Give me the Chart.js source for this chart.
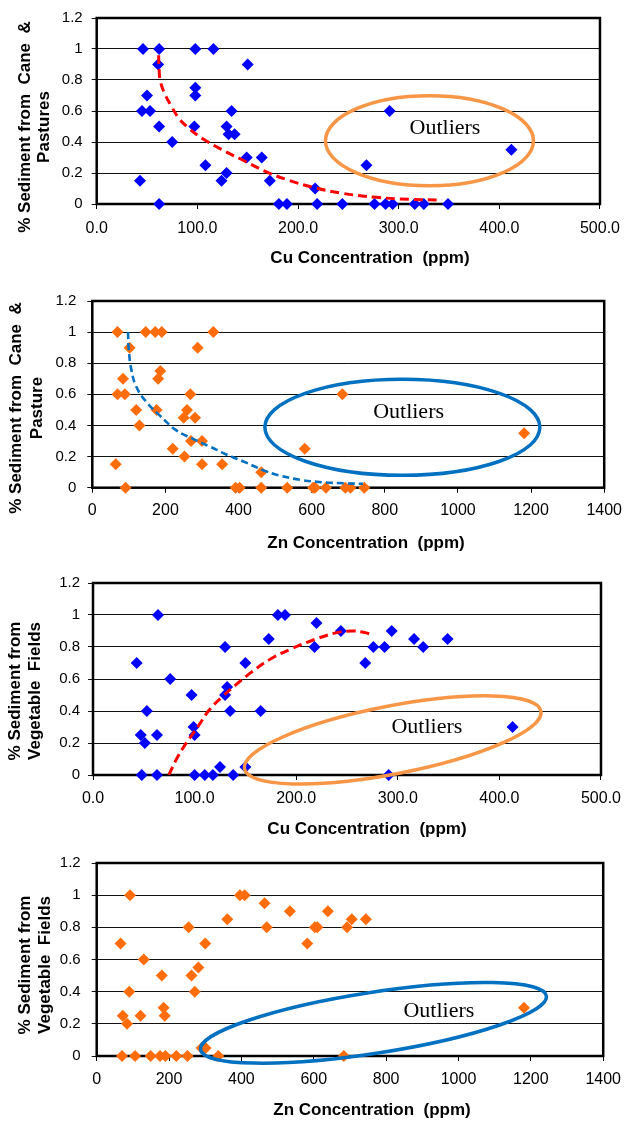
<!DOCTYPE html>
<html lang="en">
<head>
<meta charset="UTF-8">
<title>Sediment source vs Cu / Zn concentration</title>
<script src="https://cdn.jsdelivr.net/npm/chart.js"></script>
<style>
  body { margin: 0; background: #fff; }
  .panel { position: absolute; left: 0; width: 630px; height: 281px; }
</style>
</head>
<body>
<div class="panel" style="top:0px"><canvas id="cu-cane"></canvas></div>
<div class="panel" style="top:281px"><canvas id="zn-cane"></canvas></div>
<div class="panel" style="top:562px"><canvas id="cu-veg"></canvas></div>
<div class="panel" style="top:843px"><canvas id="zn-veg"></canvas></div>

<script>
// ---- data ----
// Cu vs % sediment from cane & pastures
const cuCaneX = [46, 62, 98, 116, 61, 150, 98, 98, 50, 45, 53, 134, 291, 62, 97, 129, 131, 137, 75, 412,
                 149, 164, 108, 268, 129, 43, 124, 172, 217,
                 62, 181, 189, 219, 244, 276, 287, 294, 316, 325, 349];
const cuCaneY = [1, 1, 1, 1, 0.9, 0.9, 0.75, 0.7, 0.7, 0.6, 0.6, 0.6, 0.6, 0.5, 0.5, 0.5, 0.45, 0.45, 0.4, 0.35,
                 0.3, 0.3, 0.25, 0.25, 0.2, 0.15, 0.15, 0.15, 0.1,
                 0, 0, 0, 0, 0, 0, 0, 0, 0, 0, 0];
const cuCaneTrendX = [61.5, 62, 63, 67, 73.7, 82, 92, 105, 124.5, 144, 167, 190, 216, 243, 278, 310, 343];
const cuCaneTrendY = [0.96, 0.87, 0.8, 0.72, 0.637, 0.55, 0.486, 0.423, 0.35, 0.287, 0.212, 0.155, 0.106, 0.07, 0.043, 0.03, 0.025];

// Zn vs % sediment from cane & pasture
const znCaneX = [69, 146, 172, 190, 331, 102, 288, 186, 180, 84, 69, 89, 268, 684, 120, 176, 259, 250, 281, 129,
                 1181, 270, 300, 220, 581, 252, 64, 300, 355, 462,
                 91, 392, 403, 462, 533, 604, 609, 639, 692, 706, 744];
const znCaneY = [1, 1, 1, 1, 1, 0.9, 0.9, 0.75, 0.7, 0.7, 0.6, 0.6, 0.6, 0.6, 0.5, 0.5, 0.5, 0.45, 0.45, 0.4,
                 0.35, 0.3, 0.3, 0.25, 0.25, 0.2, 0.15, 0.15, 0.15, 0.1,
                 0, 0, 0, 0, 0, 0, 0, 0, 0, 0, 0];
const znCaneTrendX = [97.7, 100, 107, 120, 148, 184, 229, 274, 319, 365, 419, 470, 509, 570, 630, 690, 740];
const znCaneTrendY = [1.0, 0.88, 0.756, 0.65, 0.55, 0.465, 0.37, 0.315, 0.267, 0.215, 0.163, 0.11, 0.08, 0.05, 0.035, 0.028, 0.025];

// Cu vs % sediment from vegetable fields
const cuVegX = [64, 182, 189, 220, 244, 294, 173, 316, 349, 130, 218, 276, 287, 325, 43, 150, 268, 76, 132,
                97, 130, 53, 135, 165, 99, 413, 47, 63, 100, 51, 125, 150,
                48, 63, 100, 110, 118, 138, 291];
const cuVegY = [1, 1, 1, 0.95, 0.9, 0.9, 0.85, 0.85, 0.85, 0.8, 0.8, 0.8, 0.8, 0.8, 0.7, 0.7, 0.7, 0.6, 0.55,
                0.5, 0.5, 0.4, 0.4, 0.4, 0.3, 0.3, 0.25, 0.25, 0.25, 0.2, 0.05, 0.05,
                0, 0, 0, 0, 0, 0, 0];
const cuVegTrendX = [74.6, 83.4, 91.6, 103, 114.4, 127.4, 140.5, 156.7, 176, 195.8, 218.7, 240, 255, 268, 275];
const cuVegTrendY = [0, 0.114, 0.198, 0.3, 0.406, 0.49, 0.563, 0.646, 0.73, 0.79, 0.848, 0.89, 0.9, 0.89, 0.875];

// Zn vs % sediment from vegetable fields
const znVegX = [92, 396, 409, 464, 534, 639, 361, 705, 744, 254, 470, 603, 610, 692, 66, 300, 582, 130, 281,
                180, 262, 90, 271, 185, 1181, 72, 121, 188, 84, 290, 301,
                70, 106, 149, 175, 190, 220, 251, 336, 683];
const znVegY = [1, 1, 1, 0.95, 0.9, 0.9, 0.85, 0.85, 0.85, 0.8, 0.8, 0.8, 0.8, 0.8, 0.7, 0.7, 0.7, 0.6, 0.55,
                0.5, 0.5, 0.4, 0.4, 0.3, 0.3, 0.25, 0.25, 0.25, 0.2, 0.05, 0.05,
                0, 0, 0, 0, 0, 0, 0, 0, 0];

const yTicks = [0, 0.2, 0.4, 0.6, 0.8, 1, 1.2];
const cuTicks = ['0.0', '100.0', '200.0', '300.0', '400.0', '500.0'];
const znTicks = ['0', '200', '400', '600', '800', '1000', '1200', '1400'];

const BLUE = '#0000FF';
const ORANGE = '#FF6D0A';
const RING_ORANGE = '#F79646';
const RING_BLUE = '#0070C0';

Chart.defaults.font.family = '"Liberation Sans", Arial, sans-serif';
Chart.defaults.color = '#000';

function pts(xs, ys) {
    return xs.map((x, i) => ({ x: x, y: ys[i] }));
}

// frame, outlier ring, label and axis titles
const notes = {
    id: 'notes',
    beforeDatasetsDraw(chart) {
        const { ctx, chartArea: a } = chart;
        ctx.save();
        ctx.strokeStyle = '#000';
        ctx.lineWidth = 2.5;
        ctx.strokeRect(a.left, a.top, a.right - a.left, a.bottom - a.top);
        ctx.restore();
    },
    afterDatasetsDraw(chart, args, o) {
        const { ctx, scales: { x, y } } = chart;
        ctx.save();
        ctx.beginPath();
        ctx.ellipse(x.getPixelForValue(o.ring.x), y.getPixelForValue(o.ring.y),
                    o.ring.rx, o.ring.ry, o.ring.angle * Math.PI / 180, 0, Math.PI * 2);
        ctx.strokeStyle = o.ring.color;
        ctx.lineWidth = 3.5;
        ctx.stroke();

        ctx.fillStyle = '#000';
        ctx.textAlign = 'center';
        ctx.textBaseline = 'middle';
        ctx.font = '22px "Liberation Serif", "Times New Roman", serif';
        ctx.fillText('Outliers', x.getPixelForValue(o.label.x), y.getPixelForValue(o.label.y));

        ctx.font = 'bold 17px "Liberation Sans", Arial, sans-serif';
        ctx.fillText(o.xTitle, o.xTitlePos[0], o.xTitlePos[1]);
        o.yTitle.forEach((line, i) => {
            ctx.save();
            ctx.translate(o.yTitleX[i], o.yTitleY);
            ctx.rotate(-Math.PI / 2);
            ctx.fillText(line, 0, 0);
            ctx.restore();
        });
        ctx.restore();
    }
};

function makeChart(id, cfg) {
    const datasets = [];
    if (cfg.trend) {
        datasets.push({
            data: cfg.trend,
            showLine: true,
            pointRadius: 0,
            borderColor: cfg.trendColor,
            borderWidth: cfg.trendWidth,
            borderDash: cfg.trendDash,
            tension: 0.4,
            fill: false,
            order: 0
        });
    }
    datasets.push({
        data: cfg.points,
        pointStyle: 'rectRot',
        pointRadius: 6,
        pointHoverRadius: 6,
        backgroundColor: cfg.color,
        borderColor: cfg.color,
        borderWidth: 0,
        clip: false,
        order: 1
    });

    return new Chart(document.getElementById(id), {
        type: 'scatter',
        data: { datasets: datasets },
        options: {
            responsive: true,
            maintainAspectRatio: false,
            animation: false,
            layout: { padding: { left: 0, top: cfg.area.top, right: 630 - cfg.area.right, bottom: 0 } },
            plugins: {
                legend: { display: false },
                tooltip: { enabled: false },
                notes: cfg.notes
            },
            scales: {
                x: {
                    type: 'linear',
                    min: 0,
                    max: cfg.xMax,
                    border: { display: false },
                    grid: { drawOnChartArea: false, drawTicks: true, tickLength: 5, color: '#000' },
                    afterBuildTicks: s => { s.ticks = cfg.xLabels.map(v => ({ value: Number(v) })); },
                    ticks: {
                        autoSkip: false,
                        maxRotation: 0,
                        padding: cfg.xPad,
                        font: { size: 16 },
                        callback: (v, i) => cfg.xLabels[i]
                    },
                    afterFit: s => { s.height = 281 - cfg.area.bottom; }
                },
                y: {
                    min: 0,
                    max: 1.2,
                    border: { display: false },
                    grid: { color: '#111', lineWidth: 1, tickLength: 5 },
                    afterBuildTicks: s => { s.ticks = yTicks.map(v => ({ value: v })); },
                    ticks: {
                        padding: cfg.yPad,
                        font: { size: 15 },
                        callback: v => String(Number(v.toFixed(1)))
                    },
                    afterFit: s => { s.width = cfg.area.left; }
                }
            }
        },
        plugins: [notes]
    });
}

makeChart('cu-cane', {
    points: pts(cuCaneX, cuCaneY),
    trend: pts(cuCaneTrendX, cuCaneTrendY),
    color: BLUE, trendColor: '#FF0000', trendWidth: 3, trendDash: [9, 5],
    xMax: 500, xLabels: cuTicks, xPad: 10, yPad: 9,
    area: { left: 96.7, right: 606, top: 15, bottom: 204 },
    notes: {
        ring: { x: 330.6, y: 0.408, rx: 104, ry: 45, angle: 0, color: RING_ORANGE },
        label: { x: 346, y: 0.492 },
        xTitle: 'Cu Concentration  (ppm)', xTitlePos: [370, 258],
        yTitle: ['% Sediment from  Cane  &', 'Pastures'], yTitleX: [25, 44], yTitleY: 127
    }
});

makeChart('zn-cane', {
    points: pts(znCaneX, znCaneY),
    trend: pts(znCaneTrendX, znCaneTrendY),
    color: ORANGE, trendColor: RING_BLUE, trendWidth: 2.6, trendDash: [7, 4],
    xMax: 1400, xLabels: znTicks, xPad: 8, yPad: 11,
    area: { left: 92.3, right: 608, top: 14.7, bottom: 206.7 },
    notes: {
        ring: { x: 848, y: 0.388, rx: 137.5, ry: 48, angle: 0, color: RING_BLUE },
        label: { x: 865, y: 0.486 },
        xTitle: 'Zn Concentration  (ppm)', xTitlePos: [366, 262],
        yTitle: ['% Sediment from  Cane  &', 'Pasture'], yTitleX: [16, 37], yTitleY: 127
    }
});

makeChart('cu-veg', {
    points: pts(cuVegX, cuVegY),
    trend: pts(cuVegTrendX, cuVegTrendY),
    color: BLUE, trendColor: '#FF0000', trendWidth: 3, trendDash: [9, 5],
    xMax: 500, xLabels: cuTicks, xPad: 9, yPad: 8,
    area: { left: 93, right: 604, top: 21, bottom: 213 },
    notes: {
        ring: { x: 295, y: 0.219, rx: 151, ry: 34, angle: -11, color: RING_ORANGE },
        label: { x: 328.6, y: 0.297 },
        xTitle: 'Cu Concentration  (ppm)', xTitlePos: [367, 267],
        yTitle: ['% Sediment from', 'Vegetable  Fields'], yTitleX: [15, 35], yTitleY: 129
    }
});

makeChart('zn-veg', {
    points: pts(znVegX, znVegY),
    color: ORANGE,
    xMax: 1400, xLabels: znTicks, xPad: 9, yPad: 11,
    area: { left: 96.7, right: 607.7, top: 15, bottom: 213 },
    notes: {
        ring: { x: 765, y: 0.206, rx: 175, ry: 30.5, angle: -8.8, color: RING_BLUE },
        label: { x: 945.7, y: 0.276 },
        xTitle: 'Zn Concentration  (ppm)', xTitlePos: [372, 267],
        yTitle: ['% Sediment from', 'Vegetable  Fields'], yTitleX: [25, 45], yTitleY: 122
    }
});
</script>
</body>
</html>
